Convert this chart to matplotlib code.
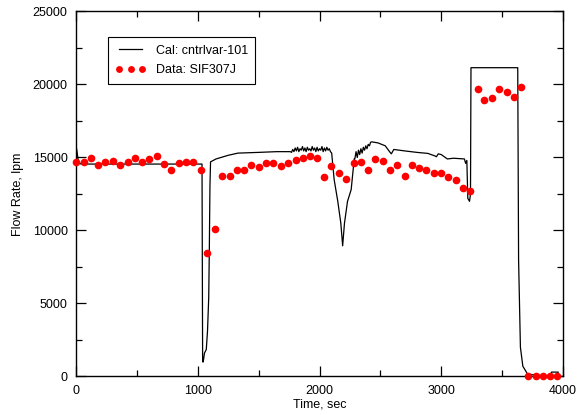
import numpy as np
import matplotlib
matplotlib.use("Agg")
import matplotlib.pyplot as plt
from matplotlib.ticker import MultipleLocator

plt.rcParams['font.family'] = ['Liberation Sans', 'DejaVu Sans']
plt.rcParams['font.size'] = 9

# measured data (SIF307J)
data_t = [0, 63, 123, 183, 240, 300, 363, 423, 484, 541, 601, 664, 724, 784,
          842, 902, 961, 1025, 1079, 1139, 1202, 1262, 1320, 1380, 1440, 1500,
          1557, 1620, 1680, 1740, 1803, 1863, 1920, 1981, 2035, 2098, 2158,
          2219, 2281, 2339, 2399, 2459, 2519, 2579, 2639, 2699, 2760, 2817,
          2877, 2937, 2998, 3057, 3117, 3178, 3238, 3298, 3355, 3416, 3478,
          3538, 3596, 3656, 3716, 3776, 3836, 3893, 3953]
data_v = [14710, 14660, 14940, 14460, 14710, 14750, 14520, 14710, 14940, 14710,
          14910, 15110, 14570, 14160, 14640, 14660, 14710, 14160, 8470, 10110,
          13710, 13750, 14120, 14140, 14480, 14320, 14640, 14640, 14430, 14640,
          14820, 14940, 15100, 14940, 13680, 14410, 13910, 13500, 14620, 14690,
          14160, 14870, 14780, 14120, 14460, 13750, 14480, 14300, 14120, 13960,
          13930, 13640, 13430, 12930, 12730, 19720, 18970, 19080, 19720, 19470,
          19150, 19830, 0, 0, 0, 0, 0]

# calculation (cntrlvar-101)
cal_t_a = [0, 5, 20, 40, 1035, 1040, 1045, 1055, 1070, 1080, 1090, 1095, 1100,
           1105, 1150, 1250, 1330, 1500, 1650, 1760]
cal_v_a = [14600, 15600, 14700, 14550, 14550, 1000, 1000, 1600, 1850, 3100,
           5400, 8700, 13000, 14700, 14900, 15150, 15300, 15350, 15400, 15400]
noisy1_v = [15350, 15550, 15400, 15650, 15450, 15700, 15400, 15600, 15500,
            15750, 15450, 15650, 15400, 15700, 15500, 15600, 15450, 15750,
            15500, 15650, 15400, 15700, 15450, 15600, 15500, 15750, 15400,
            15650, 15450, 15700, 15500, 15600, 15400]
cal_t_b = [2100, 2120, 2150, 2175, 2190, 2205, 2230, 2260, 2285]
cal_v_b = [15300, 13500, 12000, 10500, 8950, 10500, 12000, 12800, 14900]
noisy2_v = [14900, 15400, 15000, 15500, 15200, 15600, 15300, 15700, 15500,
            15800, 15600, 15900, 15800, 16050]
cal_t_c = [2430, 2480, 2540, 2575, 2590, 2610, 2700, 2800, 2890, 2950, 2960,
           2975, 3000, 3050, 3100, 3190, 3200, 3210, 3218, 3232, 3240, 3244,
           3628, 3635, 3650, 3670, 3710, 3850, 3900, 3905, 3960, 3962, 3990]
cal_v_c = [16070, 16000, 15800, 15400, 15250, 15550, 15450, 15350, 15280,
           15100, 15050, 15250, 15200, 14900, 14950, 14900, 14600, 14800,
           12200, 12000, 12500, 21150, 21150, 8000, 2000, 700, 150, 50, 50,
           300, 300, 0, 0]

cal_t = (cal_t_a + list(np.arange(1770, 2091, 10)) + cal_t_b
         + list(np.arange(2290, 2421, 10)) + cal_t_c)
cal_v = cal_v_a + noisy1_v + cal_v_b + noisy2_v + cal_v_c

fig = plt.figure(figsize=(5.86, 4.15), dpi=100)
ax = fig.add_axes([0.1297, 0.0928, 0.8311, 0.8795])

ax.plot(cal_t, cal_v, color='black', lw=0.9, label='Cal: cntrlvar-101')
ax.plot(data_t, data_v, 'o', color='#ff0000', ms=5.5, mec='none',
        label='Data: SIF307J', clip_on=False, zorder=3)

ax.set_xlim(0, 4000)
ax.set_ylim(0, 25000)
ax.xaxis.set_major_locator(MultipleLocator(1000))
ax.xaxis.set_minor_locator(MultipleLocator(500))
ax.yaxis.set_major_locator(MultipleLocator(5000))
ax.yaxis.set_minor_locator(MultipleLocator(2500))
ax.tick_params(which='both', direction='in', top=True, right=True, pad=6)
ax.tick_params(which='major', length=7, width=0.9)
ax.tick_params(which='minor', length=4, width=0.9)
for s in ax.spines.values():
    s.set_linewidth(1.0)

ax.set_xlabel('Time, sec', labelpad=1)
ax.set_ylabel('Flow Rate, lpm', labelpad=6)

leg = ax.legend(loc='upper left', bbox_to_anchor=(0.053, 0.947), numpoints=3,
                fancybox=False, edgecolor='black', framealpha=1,
                handlelength=2.4, handletextpad=0.8, borderpad=0.6,
                labelspacing=0.6, markerscale=0.9)
leg.get_frame().set_linewidth(0.8)

fig.savefig('out.png', dpi=100)
